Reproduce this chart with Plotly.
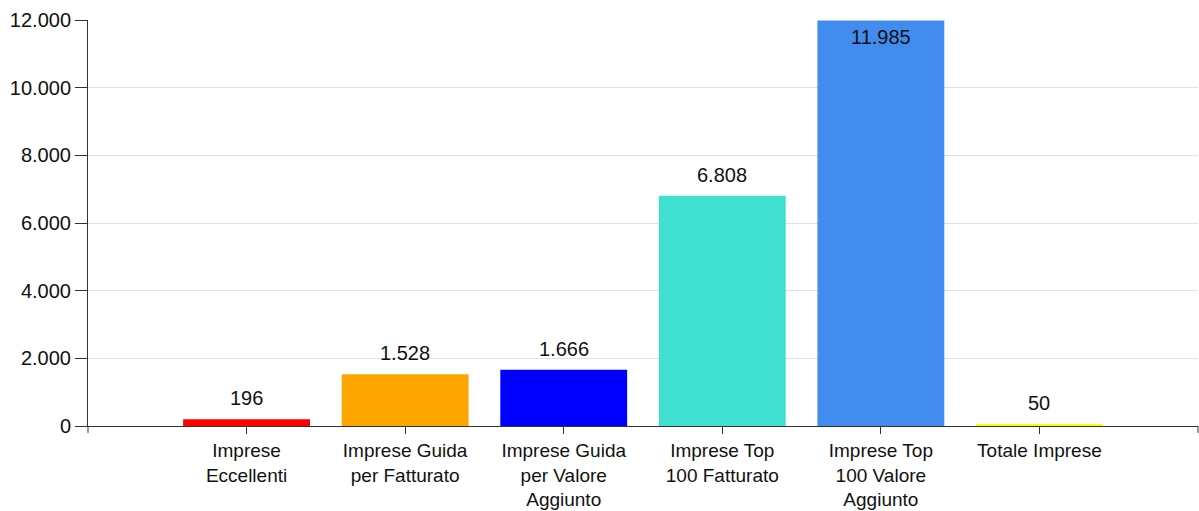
import plotly.graph_objects as go

categories = [
    "Imprese<br>Eccellenti",
    "Imprese Guida<br>per Fatturato",
    "Imprese Guida<br>per Valore<br>Aggiunto",
    "Imprese Top<br>100 Fatturato",
    "Imprese Top<br>100 Valore<br>Aggiunto",
    "Totale Imprese",
]
values = [196, 1528, 1666, 6808, 11985, 50]
colors = ["#ff0000", "#ffa500", "#0000ff", "#40e0d0", "#428bef", "#ffff00"]
y_ticks = [0, 2000, 4000, 6000, 8000, 10000, 12000]

FONT = "Liberation Sans, Arial, sans-serif"
FS = 20
FS_X = 19


def fmt(v):
    return f"{v:,}".replace(",", ".")


fig = go.Figure()
fig.add_trace(go.Bar(
    x=categories,
    y=values,
    marker=dict(color=colors, line=dict(width=0)),
    width=0.8,
    hoverinfo="skip",
))

annotations = []
for c, v in zip(categories, values):
    inside = v > 11000
    annotations.append(dict(
        x=c, y=v, xref="x", yref="y",
        text=fmt(v), showarrow=False,
        yanchor="top" if inside else "bottom",
        yshift=-3 if inside else 8,
        font=dict(family=FONT, size=FS, color="#111"),
    ))

W, H = 1199, 511
M = dict(l=88, r=1, t=20, b=83)
plot_h = H - M["t"] - M["b"]
shapes = [
    dict(type="line", xref="paper", yref="paper", x0=0, x1=0, y0=0, y1=-7 / plot_h,
         line=dict(color="#333", width=1)),
    dict(type="line", xref="paper", yref="paper", x0=1, x1=1, y0=0, y1=-7 / plot_h,
         line=dict(color="#333", width=1)),
]

fig.update_layout(
    width=W, height=H,
    margin=M,
    paper_bgcolor="white", plot_bgcolor="white",
    separators=",.",
    showlegend=False,
    font=dict(family=FONT, size=FS, color="#111"),
    annotations=annotations,
    shapes=shapes,
    xaxis=dict(
        type="category",
        range=[-1, len(categories)],
        showline=True, linecolor="#333", linewidth=1,
        ticks="outside", ticklen=7, tickcolor="#333",
        showgrid=False, zeroline=False,
        tickfont=dict(family=FONT, size=FS_X, color="#111"),
    ),
    yaxis=dict(
        range=[0, 12000],
        tickvals=y_ticks,
        tickformat=",d",
        showline=True, linecolor="#333", linewidth=1,
        ticks="outside", ticklen=12, tickcolor="#333",
        showgrid=True, gridcolor="#e0e0e0", gridwidth=1,
        zeroline=False,
        tickfont=dict(family=FONT, size=FS, color="#111"),
    ),
)

fig.write_html(
    "out.html",
    config={"displayModeBar": False},
    post_script="document.body.style.margin='0';document.body.style.overflow='hidden';",
)
